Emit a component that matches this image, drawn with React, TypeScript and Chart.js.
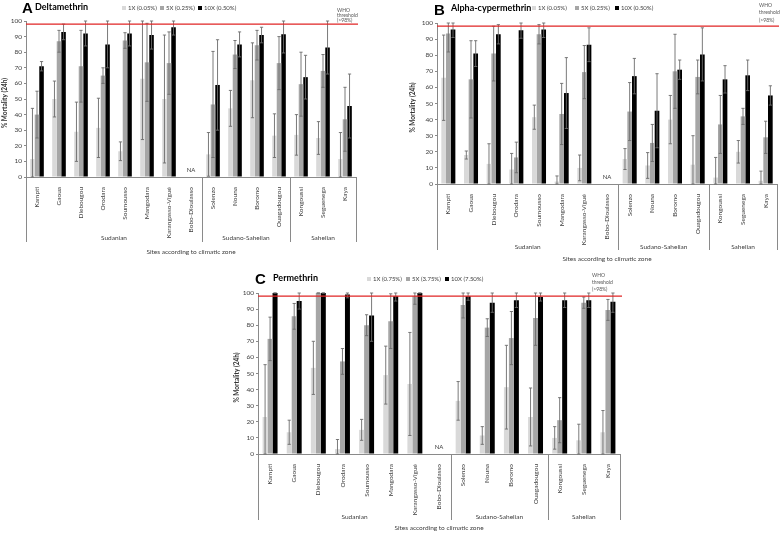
import React, { useEffect, useRef } from "react";
import { Chart, registerables } from "chart.js";
Chart.register(...registerables);

const sites = ["Kampti", "Gaoua", "Diebougou", "Orodara", "Soumousso", "Mangodara", "Karangasso-Vigué", "Bobo-Dioulasso", "Solenzo", "Nouna", "Boromo", "Ouagadougou", "Kongoussi", "Seguenega", "Kaya"];
const zones = ["Sudanian", "Sudano-Sahelian", "Sahelian"];
const zoneSizes = [8, 4, 3];
const axisTitle = "Sites according to climatic zone";
const yTitle = "% Mortality (24h)";
const whoLines = ["WHO", "threshold", "(>98%)"];
const whoThreshold = 98;

// A – Deltamethrin
const deltaLegend = ["1X (0.05%)", "5X (0.25%)", "10X (0.50%)"];
const delta1X = [11.5, 50, 29, 31.5, 16.5, 63, 50, null, 14.5, 44, 62, 26.5, 27, 25, 11.5];
const delta1XErr = [32.5, 11.5, 19, 19, 6, 39, 41, null, 14, 11.5, 24, 14, 13, 10.5, 17];
const delta5X = [40, 87, 71, 65, 87.5, 73.5, 73, null, 46.5, 78.5, 84.5, 73, 59.5, 68, 37];
const delta5XErr = [15, 7, 23, 5, 5, 25, 20, null, 34, 9, 9.5, 17, 20.5, 10.5, 20.5];
const delta10X = [71, 93, 92, 85, 92, 91, 96, null, 59, 85, 91, 91.5, 64, 83, 45.5];
const delta10XErr = [3, 5, 8, 15, 8, 9, 5, null, 29, 8, 5, 12, 14, 17, 20.5];

// B – Alpha-cypermethrin
const alphaLegend = ["1X (0.05%)", "5X (0.25%)", "10X (0.50%)"];
const alpha1X = [66, 18, 12.5, 9, 41.5, 1.5, 10, null, 15.5, 11.5, 40, 12, 4, 20, 2];
const alpha1XErr = [26.5, 2.5, 12.5, 10, 7.5, 3.5, 8, null, 6.5, 8, 15, 18, 12.5, 7, 6];
const alpha5X = [93.5, 65, 81, 16.5, 93, 43.5, 69.5, null, 45, 25.5, 70, 66.5, 37, 42, 29];
const alpha5XErr = [11.5, 24, 17, 9.5, 6, 19, 16.5, null, 18, 11.5, 23, 10.5, 18, 5, 10];
const alpha10X = [96, 81, 93, 95.5, 96, 56.5, 86.5, null, 67, 45.5, 71, 80.5, 65, 67.5, 55];
const alpha10XErr = [5, 8, 6, 5, 5, 22, 10.5, null, 11, 23, 6, 16.5, 8.5, 9.5, 6];

// C – Permethrin
const permLegend = ["1X (0.75%)", "5X (3.75%)", "10X (7.50%)"];
const perm1X = [23, 13.5, 53.5, 3, 15, 49, 43.5, null, 33, 11.5, 41.5, 23, 10, 8.5, 13.5];
const perm1XErr = [32.5, 7.5, 16.5, 6, 6.5, 18, 32, null, 12, 5.5, 26, 18, 7, 10, 13.5];
const perm5X = [71.5, 85.5, 100, 57.5, 80, 82.5, 98, null, 92.5, 78.5, 72, 84.5, 21, 94, 89.5];
const perm5XErr = [13.5, 8, 0, 8, 6.5, 17, 5, null, 8, 5.5, 16.5, 17, 14, 3.5, 6.5];
const perm10X = [100, 95, 100, 99, 86, 98, 100, null, 98, 94, 95.5, 97.5, 95.5, 95.5, 94.5];
const perm10XErr = [0, 5, 0, 2, 16, 3, 0, null, 2.5, 6, 4.5, 2.5, 4.5, 4.5, 6.5];

const barColors = ["#d9d9d9", "#a6a6a6", "#000000"];
const FONT = "Lato, 'Open Sans', sans-serif";

type Panel = {
  letter: string; name: string; legend: string[];
  values: (number | null)[][]; errs: (number | null)[][];
  left: number; top: number; w: number; h: number;
  pl: number; pr: number; pt: number; pb: number;
  letterX: number; letterY: number; letterSize: number; nameX: number; nameY: number;
  legendX: number[]; legendY: number;
  whoX: number; whoY: number[];
  yLabelX: number; groupY: number; sepBottom: number; axisTitleY: number;
};

function PanelChart({ p }: { p: Panel }) {
  const ref = useRef<HTMLCanvasElement>(null);
  useEffect(() => {
    const plugin = {
      id: "extras" + p.letter,
      afterDatasetsDraw(chart: any) {
        const ctx = chart.ctx;
        const ys = chart.scales.y;
        const xs = chart.scales.x;
        const ca = chart.chartArea;
        ctx.save();
        chart.data.datasets.forEach((ds: any, i: number) => {
          const meta = chart.getDatasetMeta(i);
          meta.data.forEach((el: any, j: number) => {
            const v = ds.data[j];
            const e = ds.errs[j];
            if (v == null || e == null) return;
            const x = el.x;
            const yt = ys.getPixelForValue(Math.min(100, v + e));
            const yb = ys.getPixelForValue(Math.max(0, v - e));
            ctx.strokeStyle = "#6b6b6b";
            ctx.lineWidth = 0.9;
            ctx.beginPath();
            ctx.moveTo(x, yt); ctx.lineTo(x, yb);
            ctx.moveTo(x - 1.6, yt); ctx.lineTo(x + 1.6, yt);
            ctx.moveTo(x - 1.6, yb); ctx.lineTo(x + 1.6, yb);
            ctx.stroke();
          });
        });
        // WHO threshold line
        const yw = ys.getPixelForValue(whoThreshold);
        ctx.strokeStyle = "#e02424";
        ctx.lineWidth = 1.3;
        ctx.beginPath();
        ctx.moveTo(ca.left, yw); ctx.lineTo(ca.right + 2, yw);
        ctx.stroke();
        // NA labels
        ctx.fillStyle = "#404040";
        ctx.font = `6px ${FONT}`;
        ctx.textAlign = "center";
        ctx.textBaseline = "middle";
        p.values[0].forEach((v, j) => {
          if (v == null) ctx.fillText("NA", xs.getPixelForValue(j), ys.getPixelForValue(0) - 7);
        });
        ctx.restore();
      },
      afterDraw(chart: any) {
        const ctx = chart.ctx;
        const xs = chart.scales.x;
        const ca = chart.chartArea;
        ctx.save();
        // zone separators
        const bounds: number[] = [-0.5];
        let acc = -0.5;
        zoneSizes.forEach((n) => { acc += n; bounds.push(acc); });
        ctx.strokeStyle = "#8a8a8a";
        ctx.lineWidth = 1;
        ctx.beginPath();
        bounds.forEach((b) => {
          const x = Math.round(xs.getPixelForValue(b)) + 0.5;
          ctx.moveTo(x, ca.bottom); ctx.lineTo(x, p.sepBottom);
        });
        ctx.stroke();
        ctx.fillStyle = "#404040";
        ctx.font = `6.5px ${FONT}`;
        ctx.textAlign = "center";
        ctx.textBaseline = "middle";
        zones.forEach((z, k) => {
          const xc = (xs.getPixelForValue(bounds[k]) + xs.getPixelForValue(bounds[k + 1])) / 2;
          ctx.fillText(z, xc, p.groupY);
        });
        ctx.fillText(axisTitle, (ca.left + ca.right) / 2, p.axisTitleY);
        // y title
        ctx.save();
        ctx.translate(p.yLabelX, (ca.top + ca.bottom) / 2 + 4);
        ctx.rotate(-Math.PI / 2);
        ctx.font = `bold 6.5px ${FONT}`;
        ctx.fillStyle = "#333";
        ctx.fillText(yTitle, 0, 0);
        ctx.restore();
        // title
        ctx.textAlign = "left";
        ctx.fillStyle = "#000";
        ctx.font = `bold ${p.letterSize}px 'Liberation Sans', Arial, sans-serif`;
        ctx.textBaseline = "alphabetic";
        ctx.fillText(p.letter, p.letterX, p.letterY);
        ctx.font = `bold 9px ${FONT}`;
        ctx.textBaseline = "middle";
        ctx.fillText(p.name, p.nameX, p.nameY);
        // legend
        ctx.font = `6px ${FONT}`;
        chart.data.datasets.forEach((ds: any, i: number) => {
          ctx.fillStyle = ds.backgroundColor;
          ctx.fillRect(p.legendX[i], p.legendY - 2, 4, 4);
          ctx.fillStyle = "#404040";
          ctx.fillText(ds.label, p.legendX[i] + 6, p.legendY);
        });
        // WHO text
        ctx.font = `5px ${FONT}`;
        ctx.fillStyle = "#555";
        whoLines.forEach((t, k) => ctx.fillText(t, p.whoX, p.whoY[k]));
        ctx.restore();
      },
    };
    const chart = new Chart(ref.current!, {
      type: "bar",
      data: {
        labels: sites,
        datasets: p.legend.map((lab, i) => ({
          label: lab,
          data: p.values[i],
          errs: p.errs[i],
          backgroundColor: barColors[i],
          barPercentage: 1,
          categoryPercentage: 0.62,
        })) as any,
      },
      options: {
        animation: false,
        responsive: false,
        maintainAspectRatio: false,
        layout: { padding: { left: 0, top: p.pt, right: p.w - p.pr, bottom: 0 } },
        plugins: { legend: { display: false }, tooltip: { enabled: false } },
        scales: {
          x: {
            grid: { display: false },
            border: { display: true, color: "#8a8a8a", width: 1 },
            ticks: { font: { family: FONT, size: 6.5 }, color: "#404040", maxRotation: 90, minRotation: 90, autoSkip: false, padding: 2 },
            afterFit: (s: any) => { s.height = p.h - p.pb; },
          },
          y: {
            min: 0, max: 100,
            ticks: { stepSize: 10, font: { family: FONT, size: 6.5 }, color: "#404040", padding: 2 },
            grid: { display: true, drawOnChartArea: false, drawTicks: true, tickLength: 2, color: "#8a8a8a" },
            border: { display: true, color: "#8a8a8a", width: 1 },
            afterFit: (s: any) => { s.width = p.pl; },
          },
        },
      } as any,
      plugins: [plugin],
    });
    return () => chart.destroy();
  }, [p]);
  return (
    <canvas ref={ref} width={p.w} height={p.h}
      style={{ position: "absolute", left: p.left, top: p.top, width: p.w, height: p.h }} />
  );
}

const panels: Panel[] = [
  {
    letter: "A", name: "Deltamethrin", legend: deltaLegend,
    values: [delta1X, delta5X, delta10X], errs: [delta1XErr, delta5XErr, delta10XErr],
    left: 0, top: 0, w: 392, h: 265, pl: 26, pr: 356, pt: 21, pb: 177,
    letterX: 22, letterY: 13, letterSize: 15, nameX: 35, nameY: 7,
    legendX: [122, 160, 198], legendY: 8,
    whoX: 337, whoY: [10, 15, 20],
    yLabelX: 5, groupY: 238, sepBottom: 242, axisTitleY: 252,
  },
  {
    letter: "B", name: "Alpha-cypermethrin", legend: alphaLegend,
    values: [alpha1X, alpha5X, alpha10X], errs: [alpha1XErr, alpha5XErr, alpha10XErr],
    left: 392, top: 0, w: 392, h: 265, pl: 45, pr: 385, pt: 23, pb: 184,
    letterX: 42, letterY: 15, letterSize: 15, nameX: 59, nameY: 8,
    legendX: [140, 183, 223], legendY: 8,
    whoX: 367, whoY: [5, 12.5, 20],
    yLabelX: 21, groupY: 247, sepBottom: 250, axisTitleY: 259,
  },
  {
    letter: "C", name: "Permethrin", legend: permLegend,
    values: [perm1X, perm5X, perm10X], errs: [perm1XErr, perm5XErr, perm10XErr],
    left: 150, top: 270, w: 480, h: 264, pl: 108, pr: 470, pt: 23, pb: 184,
    letterX: 105, letterY: 14, letterSize: 15, nameX: 123, nameY: 8,
    legendX: [217, 256, 295], legendY: 9,
    whoX: 442, whoY: [5, 12.5, 19],
    yLabelX: 87, groupY: 247, sepBottom: 250, axisTitleY: 258,
  },
];

export default function App() {
  return (
    <div style={{ position: "absolute", left: 0, top: 0, width: 784, height: 534, background: "#fff", overflow: "hidden" }}>
      {panels.map((p) => <PanelChart key={p.letter} p={p} />)}
    </div>
  );
}
